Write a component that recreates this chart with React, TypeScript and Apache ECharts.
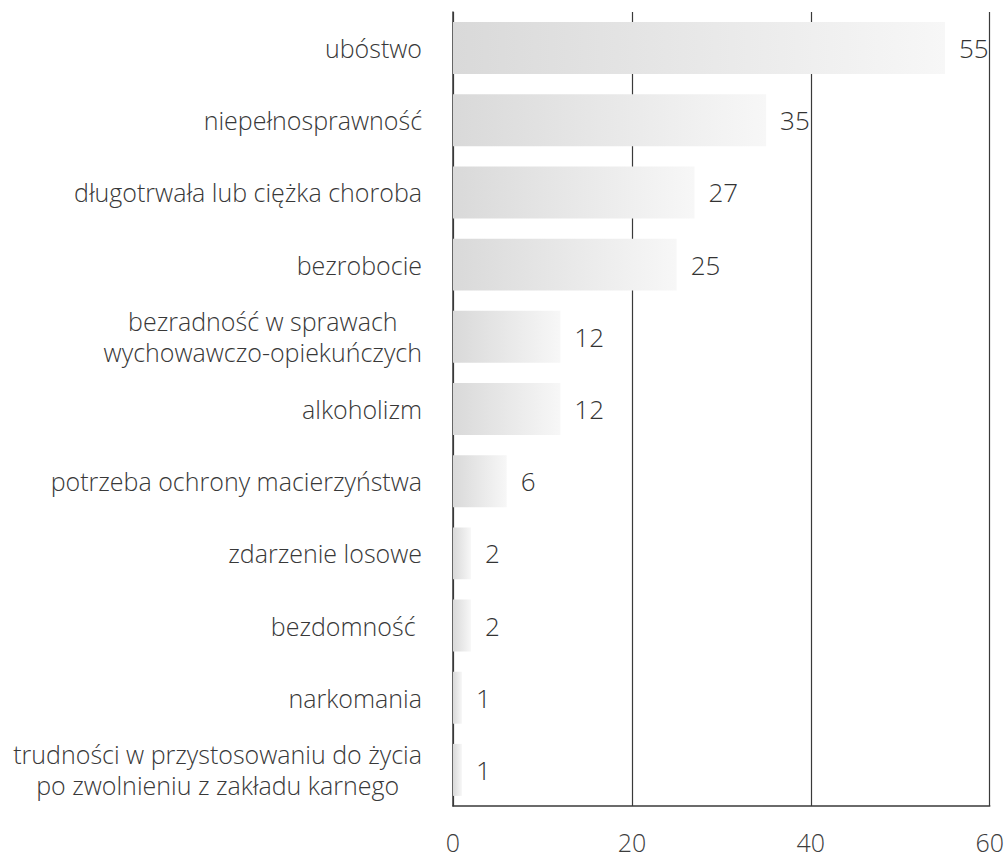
import React, { useEffect, useRef } from "react";
import * as echarts from "echarts";

const categories: string[] = [
  "ubóstwo",
  "niepełnosprawność",
  "długotrwała lub ciężka choroba",
  "bezrobocie",
  "bezradność w sprawach\nwychowawczo-opiekuńczych",
  "alkoholizm",
  "potrzeba ochrony macierzyństwa",
  "zdarzenie losowe",
  "bezdomność ",
  "narkomania",
  "trudności w przystosowaniu do życia\npo zwolnieniu z zakładu karnego",
];
const values: number[] = [55, 35, 27, 25, 12, 12, 6, 2, 2, 1, 1];
const xTicks: number[] = [0, 20, 40, 60];

const FONT = "'Open Sans', 'Noto Sans', sans-serif";

export default function App() {
  const ref = useRef<HTMLDivElement>(null);
  useEffect(() => {
    if (!ref.current) return;
    const chart = echarts.init(ref.current, null, { renderer: "svg" });
    chart.setOption({
      animation: false,
      backgroundColor: "#ffffff",
      grid: { left: 453, right: 13, top: 12, bottom: 55, containLabel: false },
      xAxis: {
        type: "value",
        min: xTicks[0],
        max: xTicks[xTicks.length - 1],
        interval: 20,
        axisLine: { show: true, lineStyle: { color: "#3a3a3a", width: 1.5 } },
        axisTick: { show: false },
        splitLine: { show: true, lineStyle: { color: "#3a3a3a", width: 1.2 } },
        axisLabel: {
          margin: 23,
          fontSize: 25,
          color: "#3d3d3d",
          fontFamily: FONT,
          fontWeight: 300,
        },
      },
      yAxis: {
        type: "category",
        inverse: true,
        data: categories,
        axisLine: { show: true, lineStyle: { color: "#3a3a3a", width: 1.5 } },
        axisTick: { show: false },
        splitLine: { show: false },
        axisLabel: {
          margin: 31,
          formatter: (v: string) =>
            v
              .split("\n")
              .map((l) => `{c|${l}}`)
              .join("\n"),
          rich: {
            c: {
              align: "center",
              fontSize: 25,
              lineHeight: 31,
              color: "#383838",
              fontFamily: FONT,
              fontWeight: 300,
            },
          },
        },
      },
      series: [
        {
          type: "bar",
          data: values,
          barCategoryGap: "28%",
          itemStyle: {
            color: new echarts.graphic.LinearGradient(0, 0, 1, 0, [
              { offset: 0, color: "#d9d9d9" },
              { offset: 1, color: "#f7f7f7" },
            ]),
          },
          label: {
            show: true,
            position: "right",
            distance: 14,
            fontSize: 26,
            color: "#333333",
            fontFamily: FONT,
            fontWeight: 300,
          },
        },
      ],
    });
    return () => chart.dispose();
  }, []);
  return (
    <div
      ref={ref}
      style={{ position: "fixed", left: 0, top: 0, width: 1007, height: 861 }}
    />
  );
}
